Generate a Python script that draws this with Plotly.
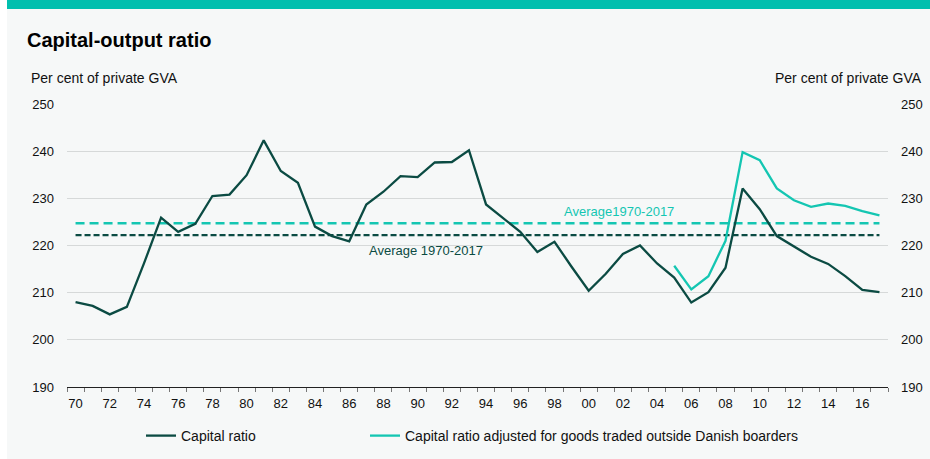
import plotly.graph_objects as go

years = list(range(1970, 2018))
capital_ratio = [
    208.0, 207.2, 205.4, 207.0, 216.2, 225.9, 222.9, 224.6, 230.5, 230.8,
    234.9, 242.3, 235.8, 233.3, 224.0, 222.0, 220.9, 228.7, 231.4, 234.7,
    234.5, 237.6, 237.7, 240.2, 228.7, 225.8, 222.9, 218.6, 220.8, 215.5,
    210.4, 214.0, 218.2, 220.0, 216.2, 213.2, 207.9, 210.1, 215.3, 232.1,
    227.7, 222.0, 219.8, 217.6, 216.1, 213.5, 210.6, 210.1,
]
adj_years = list(range(2005, 2018))
capital_ratio_adj = [
    215.7, 210.7, 213.5, 221.0, 239.8, 238.1, 232.1, 229.6, 228.2, 228.9,
    228.4, 227.3, 226.4,
]
avg_capital = 222.2
avg_adjusted = 224.7
x_tick_years = list(range(1970, 2018, 2))
x_tick_text = [str(y)[-2:] for y in x_tick_years]
y_ticks = [190, 200, 210, 220, 230, 240, 250]

DARK = "#0b4b43"
TEAL = "#14c6b2"
BAR = "#00bfae"
BG = "#f6f8f8"
FONT = "Liberation Sans, Arial, sans-serif"

W, H = 930, 459
L, R, T, B = 67, 42, 104, 72
pw, ph = W - L - R, H - T - B


def px_x(p):
    return (p - L) / pw


def px_y(p):
    return (H - B - p) / ph


fig = go.Figure()

fig.add_trace(go.Scatter(
    x=years, y=[avg_adjusted] * len(years), mode="lines",
    line=dict(color=TEAL, width=2.5, dash="9px,5px"), showlegend=False,
    hoverinfo="skip"))
fig.add_trace(go.Scatter(
    x=years, y=[avg_capital] * len(years), mode="lines",
    line=dict(color=DARK, width=2.2, dash="6px,3px"), showlegend=False,
    hoverinfo="skip"))
fig.add_trace(go.Scatter(
    x=years, y=capital_ratio, mode="lines", name="Capital ratio",
    line=dict(color=DARK, width=2.3), legend="legend"))
fig.add_trace(go.Scatter(
    x=adj_years, y=capital_ratio_adj, mode="lines",
    name="Capital ratio adjusted for goods traded outside Danish boarders",
    line=dict(color=TEAL, width=2.3), yaxis="y2", legend="legend2"))

fig.add_annotation(x=2001.8, y=227.3, text="Average1970-2017", showarrow=False,
                   font=dict(color=TEAL, size=13, family=FONT))
fig.add_annotation(x=1990.5, y=219.0, text="Average 1970-2017", showarrow=False,
                   font=dict(color=DARK, size=13, family=FONT))

fig.add_annotation(xref="paper", yref="paper", x=px_x(25), y=px_y(40.5),
                   xanchor="left", yanchor="middle", showarrow=False,
                   text="<b>Capital-output ratio</b>",
                   font=dict(size=20, color="#000000", family=FONT))
fig.add_annotation(xref="paper", yref="paper", x=px_x(29), y=px_y(78),
                   xanchor="left", yanchor="middle", showarrow=False,
                   text="Per cent of private GVA",
                   font=dict(size=14, color="#111111", family=FONT))
fig.add_annotation(xref="paper", yref="paper", x=px_x(924), y=px_y(78),
                   xanchor="right", yanchor="middle", showarrow=False,
                   text="Per cent of private GVA",
                   font=dict(size=14, color="#111111", family=FONT))

fig.add_shape(type="rect", xref="paper", yref="paper",
              x0=px_x(0), x1=px_x(7), y0=px_y(H), y1=px_y(0),
              fillcolor="#ffffff", line=dict(width=0), layer="below")
fig.add_shape(type="rect", xref="paper", yref="paper",
              x0=px_x(7), x1=px_x(W), y0=px_y(9), y1=px_y(0),
              fillcolor=BAR, line=dict(width=0), layer="below")

legend_common = dict(orientation="h", yanchor="middle", xanchor="left",
                     bgcolor="rgba(0,0,0,0)", itemwidth=30,
                     font=dict(size=14, family=FONT, color="#111111"))

fig.update_layout(
    width=W, height=H,
    margin=dict(l=L, r=R, t=T, b=B, autoexpand=False),
    paper_bgcolor=BG, plot_bgcolor=BG,
    font=dict(family=FONT, size=13, color="#111111"),
    showlegend=True,
    legend=dict(x=px_x(141), y=px_y(436), **legend_common),
    legend2=dict(x=px_x(365), y=px_y(436), **legend_common),
    xaxis=dict(
        range=[1969.5, 2017.5], tickmode="array", tickvals=x_tick_years,
        ticktext=x_tick_text, ticks="outside", ticklen=4,
        tickcolor="rgba(0,0,0,0)", showgrid=False, zeroline=False,
        showline=True, linecolor="#222222", linewidth=1, automargin=False,
        minor=dict(tickmode="array",
                   tickvals=[y - 0.5 for y in years] + [2017.5],
                   ticks="outside", ticklen=4, tickcolor="#777777",
                   showgrid=False),
        tickfont=dict(size=13),
    ),
    yaxis=dict(
        range=[190, 250], tickvals=y_ticks, showgrid=True,
        gridcolor="#d6d9d9", gridwidth=1, zeroline=False, ticks="",
        ticklabelstandoff=12, tickfont=dict(size=13), automargin=False,
    ),
    yaxis2=dict(
        range=[190, 250], tickvals=y_ticks, overlaying="y", side="right",
        showgrid=False, zeroline=False, ticks="", ticklabelstandoff=12,
        tickfont=dict(size=13), automargin=False,
    ),
)

fig.write_html("out.html",
               config={"displayModeBar": False},
               post_script="document.body.style.margin='0px';"
                           "document.body.style.overflow='hidden';")
